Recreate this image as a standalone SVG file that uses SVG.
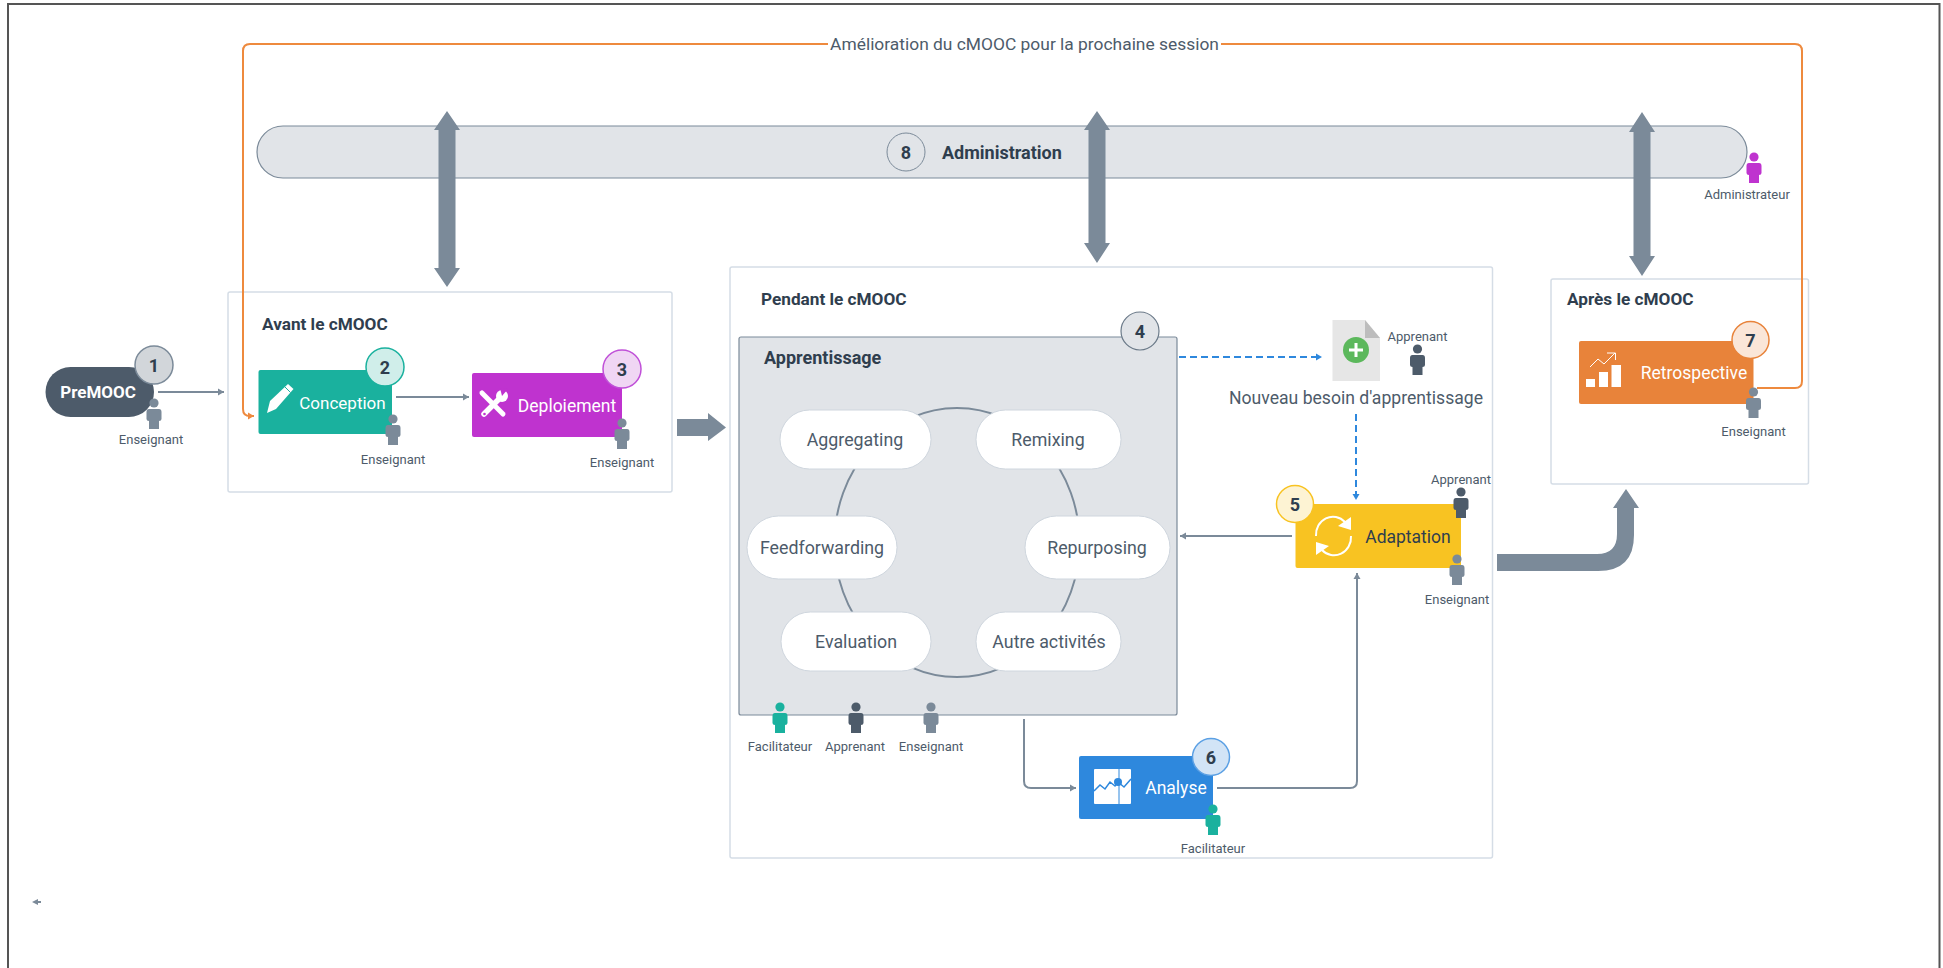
<svg xmlns="http://www.w3.org/2000/svg" width="1943" height="968" viewBox="0 0 1943 968">
<style>
text{font-family:Roboto,"Liberation Sans",sans-serif;dominant-baseline:central;fill:#2f3e4e}
.m{text-anchor:middle}
.lab{font-size:13px;fill:#4d5b6a;text-anchor:middle}
.title{font-size:17.200px;font-weight:700}
.title2{font-size:18px;font-weight:700}
.num{font-size:18px;font-weight:700;text-anchor:middle;fill:#2f3e4e}
.proc{font-size:17.500px;fill:#fff;text-anchor:middle}
.act{font-size:17.800px;fill:#4d5b6a;text-anchor:middle}
.pill{fill:#fff;stroke:#cfd6de;stroke-width:1}
.box{fill:#fff;stroke:#d5dde6;stroke-width:1.500}
.gl{fill:none;stroke:#7b8a99;stroke-width:2}
.or{fill:none;stroke:#ee8a3e;stroke-width:2}
.bl{fill:none;stroke:#2e88dd;stroke-width:2;stroke-dasharray:7 4}
.big{fill:#7b8a99}
.pg{fill:#7b8a99}.pd{fill:#4d5b6a}.pt{fill:#1ab19e}.pv{fill:#bf33cf}
.ic{fill:none;stroke:#fff;stroke-width:2}
</style>
<defs>
<marker id="ag" markerUnits="userSpaceOnUse" markerWidth="8" markerHeight="8" refX="6" refY="4" orient="auto"><path d="M0,0.500L6,4L0,7.500Z" fill="#7b8a99"/></marker>
<marker id="ao" markerUnits="userSpaceOnUse" markerWidth="8" markerHeight="8" refX="6" refY="4" orient="auto"><path d="M0,0.500L6,4L0,7.500Z" fill="#ee8a3e"/></marker>
<marker id="ab" markerUnits="userSpaceOnUse" markerWidth="8" markerHeight="8" refX="6" refY="4" orient="auto"><path d="M0,0.500L6,4L0,7.500Z" fill="#2e88dd"/></marker>
<g id="person"><circle cx="0" cy="0" r="4.600"/><path d="M-5,6H5Q7.500,6 7.500,9V16Q7.500,18 5,18V26H-5V18Q-7.500,18 -7.500,16V9Q-7.500,6 -5,6Z"/></g>
</defs>
<rect width="1943" height="968" fill="#fff"/>
<g id="frame"><path d="M8,968V4H1939.500V968" fill="none" stroke="#555" stroke-width="2"/></g>

<g id="group-avant"><rect class="box" x="228" y="292" width="444" height="200" rx="2"/><text class="title" x="262" y="324">Avant le cMOOC</text></g>
<g id="group-pendant"><rect class="box" x="730" y="267" width="762.500" height="591" rx="2"/><text class="title" x="761" y="299">Pendant le cMOOC</text></g>
<g id="group-apres"><rect class="box" x="1551" y="279" width="257.500" height="205" rx="2"/><text class="title" x="1567" y="299">Après le cMOOC</text></g>

<g id="node-administration">
<rect x="257" y="126" width="1490" height="52" rx="26" fill="#e1e4e8" stroke="#7b8a99" stroke-width="1.200"/>
<circle cx="906" cy="152" r="19" fill="#e1e4e8" stroke="#7b8a99" stroke-width="1"/><text class="num" x="906" y="152">8</text>
<text class="title2" x="942" y="152">Administration</text>
<use href="#person" x="1754" y="157" class="pv"/><text class="lab" x="1747" y="194">Administrateur</text>
</g>

<g id="connectors">
<path class="big" d="M447,111L460,130H455.500V268H460L447,287L434,268H438.500V130H434Z"/>
<path class="big" d="M1097,111L1110,130H1105.500V243H1110L1097,263L1084,243H1088.500V130H1084Z"/>
<path class="big" d="M1642,112L1655,132H1650.500V256H1655L1642,276L1629,256H1633.500V132H1629Z"/>
<path class="big" d="M677,419H708V413L726,427.500L708,441V436H677Z"/>
<path class="big" d="M1497,554H1597Q1617,554 1617,534V508H1613L1626,489L1639,508H1634V535Q1634,571 1598,571H1497Z"/>
<path class="or" d="M1757,388H1795Q1802,388 1802,381V51Q1802,44 1795,44H1221"/>
<path class="or" d="M828,44H250Q243,44 243,51V409Q243,416 250,416H254" marker-end="url(#ao)"/>
<path class="gl" d="M158,392H224" marker-end="url(#ag)"/>
<path class="gl" d="M396,397H469" marker-end="url(#ag)"/>
<path class="bl" d="M1179,357H1322" marker-end="url(#ab)"/>
<path class="bl" d="M1356,414V500" marker-end="url(#ab)"/>
<path class="gl" d="M1292,536H1180" marker-end="url(#ag)"/>
<path class="gl" d="M1024,719V781Q1024,788 1031,788H1076" marker-end="url(#ag)"/>
<path class="gl" d="M1217,788H1350Q1357,788 1357,781V573" marker-end="url(#ag)"/>
<path d="M38,899L32,902L38,905Z" fill="#7b8a99"/><path d="M36,902H41" stroke="#7b8a99" stroke-width="2"/>
</g>

<g id="node-premooc">
<rect x="45.500" y="367" width="108.500" height="50" rx="25" fill="#4d5b6a"/>
<text x="98" y="392" class="m" style="font-size:17px;font-weight:700;fill:#fff">PreMOOC</text>
<circle cx="154" cy="365" r="19" fill="#d2d6da" stroke="#7b8a99" stroke-width="1.500"/><text class="num" x="154" y="365">1</text>
<use href="#person" x="154" y="403" class="pg"/><text class="lab" x="151" y="439">Enseignant</text>
</g>

<g id="node-conception">
<rect x="258.500" y="370" width="133.500" height="64" rx="2" fill="#1ab19e"/>
<path d="M267,413L270,401L288,384L293.500,389L276,409Z" fill="#fff"/>
<path d="M285,387L290.500,392.500" stroke="#1ab19e" stroke-width="1"/>
<text class="proc" x="342.500" y="403" style="font-size:17px">Conception</text>
<circle cx="385" cy="367" r="19" fill="#d0eeea" stroke="#1ab19e" stroke-width="1.500"/><text class="num" x="385" y="367">2</text>
<use href="#person" x="393" y="419" class="pg"/><text class="lab" x="393" y="459">Enseignant</text>
</g>

<g id="node-deploiement">
<rect x="472" y="373" width="150" height="64" rx="2" fill="#bf33cf"/>
<path d="M482,393L503,414" stroke="#fff" stroke-width="5" stroke-linecap="round"/>
<path d="M502,396L484,414" stroke="#fff" stroke-width="5.500" stroke-linecap="round"/>
<circle cx="502" cy="396" r="6" fill="#fff"/><path d="M502,396L508,389L500,388Z" fill="#bf33cf"/>
<circle cx="484.500" cy="414" r="1.300" fill="#bf33cf"/>
<text class="proc" x="567" y="406">Deploiement</text>
<circle cx="622" cy="369" r="19" fill="#f0d6f4" stroke="#c050d8" stroke-width="1.500"/><text class="num" x="622" y="369">3</text>
<use href="#person" x="622" y="423" class="pg"/><text class="lab" x="622" y="462">Enseignant</text>
</g>

<g id="node-apprentissage">
<rect x="739" y="337" width="438" height="378" rx="2" fill="#e1e4e8" stroke="#7b8a99" stroke-width="1.200"/>
<text class="title2" x="764" y="357">Apprentissage</text>
<circle cx="1140" cy="331" r="19" fill="#e1e4e8" stroke="#6b7a89" stroke-width="1.200"/><text class="num" x="1140" y="331">4</text>
<ellipse cx="957" cy="542.500" rx="122.500" ry="134.500" fill="none" stroke="#7b8a99" stroke-width="2"/>
<use href="#person" x="780" y="707" class="pt"/><text class="lab" x="780" y="746">Facilitateur</text>
<use href="#person" x="856" y="707" class="pd"/><text class="lab" x="855" y="746">Apprenant</text>
<use href="#person" x="931" y="707" class="pg"/><text class="lab" x="931" y="746">Enseignant</text>
</g>
<g id="node-aggregating"><rect class="pill" x="780" y="410" width="151" height="59" rx="29.500"/><text class="act" x="855" y="439">Aggregating</text></g>
<g id="node-remixing"><rect class="pill" x="976" y="410" width="145" height="59" rx="29.500"/><text class="act" x="1048" y="439">Remixing</text></g>
<g id="node-feedforwarding"><rect class="pill" x="747" y="516" width="150" height="63" rx="31.500"/><text class="act" x="822" y="547">Feedforwarding</text></g>
<g id="node-repurposing"><rect class="pill" x="1025" y="516" width="145" height="63" rx="31.500"/><text class="act" x="1097" y="547">Repurposing</text></g>
<g id="node-evaluation"><rect class="pill" x="781" y="612" width="150" height="59" rx="29.500"/><text class="act" x="856" y="641">Evaluation</text></g>
<g id="node-autre"><rect class="pill" x="976" y="612" width="145" height="59" rx="29.500"/><text class="act" x="1049" y="641">Autre activités</text></g>

<g id="node-besoin">
<path d="M1332.500,320H1365L1380,338V381H1332.500Z" fill="#e6e6e6"/><path d="M1365,320L1380,338H1365Z" fill="#bdbdbd"/>
<circle cx="1356" cy="350" r="13" fill="#5cb85c"/><path d="M1356,343V357M1349,350H1363" stroke="#fff" stroke-width="3"/>
<text class="lab" x="1417.500" y="336">Apprenant</text>
<use href="#person" x="1417.500" y="349" class="pd"/>
<text class="act" x="1356" y="398" style="font-size:17.600px">Nouveau besoin d'apprentissage</text>
</g>

<g id="node-adaptation">
<rect x="1295.500" y="504" width="165.500" height="64" rx="2" fill="#f8c322"/>
<path class="ic" d="M1316,536A17,18 0 0 1 1345,522"/><path d="M1351,517L1351,530L1338,526Z" fill="#fff"/>
<path class="ic" d="M1351,536A17,18 0 0 1 1322,550"/><path d="M1316,555L1316,542L1329,546Z" fill="#fff"/>
<text class="proc" x="1408" y="537" style="fill:#2f3e4e">Adaptation</text>
<circle cx="1295" cy="504" r="18.500" fill="#fdf3d3" stroke="#f8c322" stroke-width="1.500"/><text class="num" x="1295" y="504">5</text>
<text class="lab" x="1461" y="479">Apprenant</text><use href="#person" x="1461" y="492" class="pd"/>
<use href="#person" x="1457" y="559" class="pg"/><text class="lab" x="1457" y="599">Enseignant</text>
</g>

<g id="node-analyse">
<rect x="1079" y="756" width="134" height="63" rx="2" fill="#2e88dd"/>
<rect x="1094" y="769" width="37" height="35" rx="1" fill="#fff"/>
<path d="M1119,769V804" stroke="#2e88dd" stroke-width="1"/>
<path d="M1094,791L1100,785L1105,789L1110,782L1115,786L1118,782L1124,787L1131,779" fill="none" stroke="#2e88dd" stroke-width="1.500"/>
<circle cx="1118" cy="782" r="4" fill="#2e88dd"/>
<text class="proc" x="1176" y="788">Analyse</text>
<circle cx="1211" cy="757" r="18.500" fill="#d2e4f6" stroke="#5ba0e4" stroke-width="1.500"/><text class="num" x="1211" y="757">6</text>
<use href="#person" x="1213" y="809" class="pt"/><text class="lab" x="1213" y="848">Facilitateur</text>
</g>

<g id="node-retrospective">
<rect x="1579" y="341" width="174.500" height="63" rx="2" fill="#e8833a"/>
<rect x="1586" y="379" width="9" height="8" fill="#fff"/><rect x="1599" y="372" width="9" height="15" fill="#fff"/><rect x="1611.500" y="365" width="9.500" height="22" fill="#fff"/>
<path d="M1590,367L1598,359L1604,364L1615,353M1607,353H1615.500V360" fill="none" stroke="#fff" stroke-width="1"/>
<text class="proc" x="1694" y="373">Retrospective</text>
<circle cx="1750.500" cy="340" r="18.500" fill="#fae6d8" stroke="#e8833a" stroke-width="1.500"/><text class="num" x="1750.500" y="340">7</text>
<use href="#person" x="1753.500" y="392" class="pg"/><text class="lab" x="1753.500" y="431">Enseignant</text>
</g>

<text id="label-amelioration" class="m" x="1024.500" y="44" style="font-size:17.400px;fill:#4d5b6a">Amélioration du cMOOC pour la prochaine session</text>
</svg>
